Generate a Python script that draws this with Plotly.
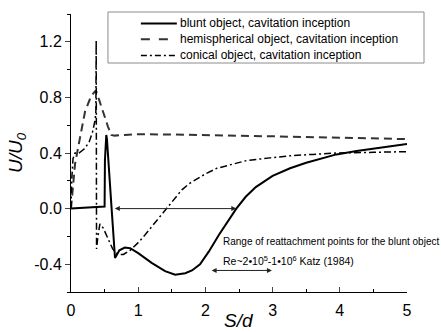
import plotly.graph_objects as go

# Velocity profiles U/U0 along S/d for three head shapes
blunt_x = [0, 0.25, 0.5, 0.505, 0.515, 0.525, 0.535, 0.545, 0.6, 0.655, 0.72, 0.8, 0.88, 1.0,
           1.2, 1.4, 1.55, 1.7, 1.8, 1.92, 2.05, 2.2, 2.33, 2.46, 2.6, 2.75, 3.0, 3.26, 3.5,
           3.75, 3.95, 4.25, 4.5, 4.75, 5.0]
blunt_y = [0, 0.005, 0.015, 0.35, 0.5, 0.53, 0.5, 0.42, 0.03, -0.355, -0.3, -0.28, -0.285, -0.32,
           -0.39, -0.45, -0.475, -0.465, -0.445, -0.4, -0.31, -0.19, -0.09, 0.0, 0.085, 0.155,
           0.235, 0.29, 0.33, 0.365, 0.39, 0.415, 0.43, 0.45, 0.465]

hemi_x = [0, 0.02, 0.06, 0.13, 0.21, 0.3, 0.37, 0.42, 0.48, 0.55, 0.6, 0.65, 0.8, 1.0,
          1.5, 2.0, 2.5, 3.0, 3.5, 4.0, 4.5, 5.0]
hemi_y = [0, 0.12, 0.32, 0.5, 0.7, 0.81, 0.85, 0.78, 0.69, 0.59, 0.53, 0.525, 0.53, 0.535,
          0.533, 0.53, 0.525, 0.52, 0.515, 0.51, 0.505, 0.5]

cone_x = [0, 0.01, 0.03, 0.06, 0.12, 0.2, 0.27, 0.32, 0.36, 0.37, 0.375, 0.38, 0.4, 0.43,
          0.48, 0.55, 0.62, 0.7, 0.78, 0.88, 1.0, 1.1, 1.2, 1.31, 1.42, 1.54, 1.65, 1.76, 1.87,
          2.0, 2.17, 2.4, 2.61, 2.96, 3.26, 3.6, 3.95, 4.5, 5.0]
cone_y = [0, 0.2, 0.36, 0.4, 0.4, 0.43, 0.48, 0.55, 0.64, 0.7, 1.21, -0.29, -0.2, -0.11,
          -0.14, -0.22, -0.29, -0.33, -0.33, -0.3, -0.245, -0.19, -0.13, -0.065, 0.0, 0.07,
          0.135, 0.18, 0.215, 0.25, 0.29, 0.32, 0.345, 0.365, 0.38, 0.39, 0.4, 0.405, 0.41]

series_names = ["blunt object, cavitation inception",
                "hemispherical object, cavitation inception",
                "conical object, cavitation inception"]

# Reattachment ranges (start, end, level)
sim_range = [0.63, 2.46, 0.0]
katz_range = [2.07, 2.99, -0.445]

x_ticks = [0, 1, 2, 3, 4, 5]
y_ticks = [-0.4, 0.0, 0.4, 0.8, 1.2]
y_labels = ["-0.4", "0.0", "0.4", "0.8", "1.2"]

FONT = "Arial, Liberation Sans, sans-serif"
styles = [dict(color="black", width=2),
          dict(color="#333333", width=2, dash="8px,5px"),
          dict(color="black", width=1.5, dash="7px,3px,2px,3px")]
legend_dash = [None, "9px,9px", "6px,3px,2px,3px"]

fig = go.Figure()
for xs, ys, name, st in zip([blunt_x, hemi_x, cone_x], [blunt_y, hemi_y, cone_y],
                            series_names, styles):
    fig.add_trace(go.Scatter(x=xs, y=ys, mode="lines", name=name, line=st,
                             showlegend=False))

# Boxed key in the upper part of the plot area (paper coordinates)
fig.add_shape(type="rect", xref="paper", yref="paper", x0=0.110, x1=1.0506,
              y0=0.8237, y1=1.0072, line=dict(color="#8c8c8c", width=1),
              fillcolor="white", layer="above")
row_y = [0.966, 0.909, 0.851]
for ry, name, st, dsh in zip(row_y, series_names, styles, legend_dash):
    ln = dict(color=st["color"], width=st["width"])
    if dsh:
        ln["dash"] = dsh
    fig.add_shape(type="line", xref="paper", yref="paper", x0=0.208, x1=0.315,
                  y0=ry, y1=ry, line=ln, layer="above")
    fig.add_annotation(x=0.318, y=ry, xref="paper", yref="paper", xanchor="left",
                       yanchor="middle", text=name, showarrow=False,
                       font=dict(family=FONT, size=12, color="black"))

for rng in (sim_range, katz_range):
    fig.add_annotation(x=rng[1], y=rng[2], ax=rng[0], ay=rng[2],
                       xref="x", yref="y", axref="x", ayref="y",
                       text="", showarrow=True, arrowhead=2, startarrowhead=2,
                       arrowside="end+start", arrowsize=1, startarrowsize=1,
                       arrowwidth=1, arrowcolor="#222222")

fig.add_annotation(x=2.23, y=-0.237, xref="x", yref="y", xanchor="left", yanchor="middle",
                   text="Range of reattachment points for the blunt object",
                   showarrow=False, font=dict(family=FONT, size=10, color="black"))
fig.add_annotation(x=2.23, y=-0.37, xref="x", yref="y", xanchor="left", yanchor="middle",
                   text="Re~2•10<sup>5</sup>-1•10<sup>6</sup> Katz (1984)",
                   showarrow=False, font=dict(family=FONT, size=10.5, color="black"))

# x-axis title placed just under the tick labels
fig.add_annotation(x=0.5, y=-0.101, xref="paper", yref="paper", xanchor="center",
                   yanchor="middle", text="<i>S/d</i>", showarrow=False,
                   font=dict(family=FONT, size=19, color="black"))

fig.update_layout(
    width=441, height=332,
    margin=dict(l=71, r=34, t=14, b=40),
    paper_bgcolor="white", plot_bgcolor="white",
    font=dict(family=FONT, color="black"),
    showlegend=False,
)
fig.update_xaxes(range=[0, 5], tickvals=x_ticks, ticks="inside", ticklen=5,
                 showline=True, linecolor="black", linewidth=1, showgrid=False, zeroline=False,
                 tickfont=dict(size=16), ticklabelstandoff=4, automargin=False,
                 minor=dict(ticks="inside", dtick=0.5, tick0=0, ticklen=3, tickcolor="black"))
fig.update_yaxes(range=[-0.6, 1.4], tickvals=y_ticks, ticktext=y_labels, ticks="outside", ticklen=5,
                 showline=True, linecolor="black", linewidth=1, showgrid=False, zeroline=False,
                 tickfont=dict(size=16), automargin=False,
                 minor=dict(ticks="outside", dtick=0.2, tick0=0, ticklen=3, tickcolor="black"),
                 title=dict(text="<i>U/U<sub>0</sub></i>", font=dict(size=19), standoff=6))

fig.write_html("out.html")
